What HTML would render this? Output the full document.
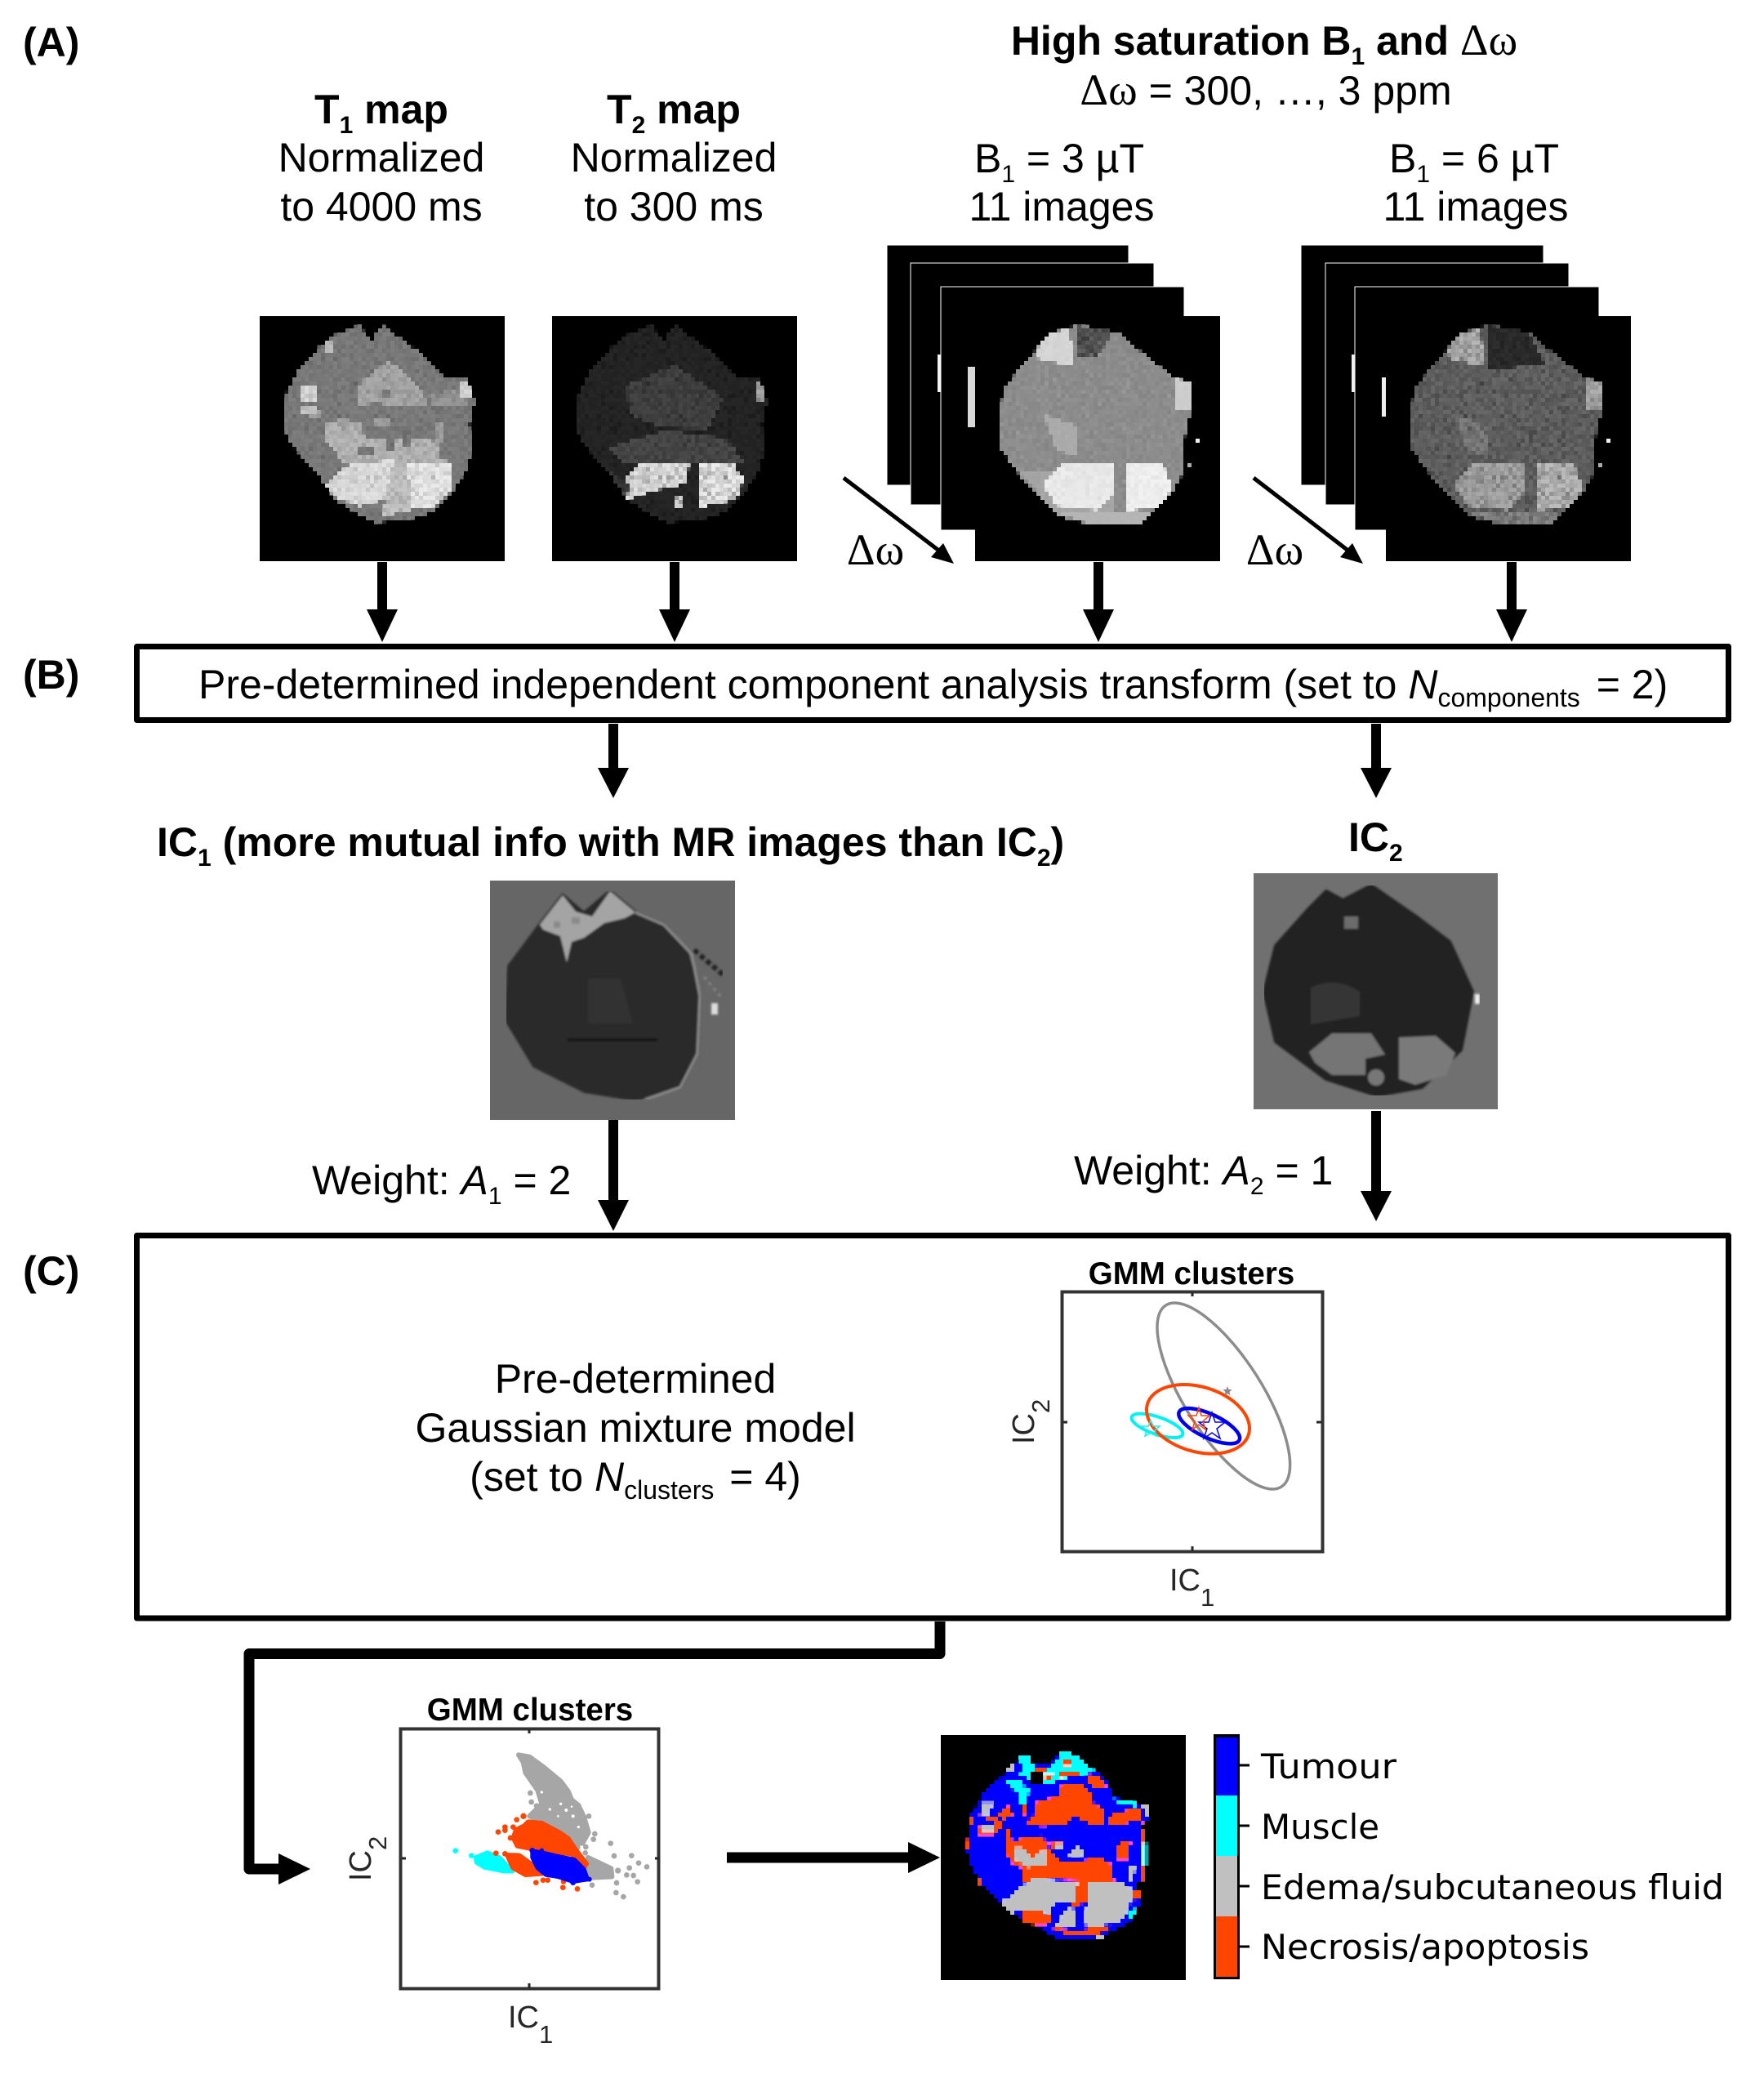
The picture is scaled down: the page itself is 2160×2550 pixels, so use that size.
<!DOCTYPE html>
<html><head><meta charset="utf-8"><title>Diagram</title>
<style>
html,body{margin:0;padding:0;background:#fff}
svg{display:block}
text{font-family:"Liberation Sans",Arial,sans-serif;white-space:pre;fill:#000;font-size:50px}
.b{font-weight:700}
.s{font-family:"Liberation Serif",serif;font-size:54px}
.ax{fill:#262626;font-size:38px}
.dj{font-family:"DejaVu Sans",sans-serif;font-size:42px}
</style></head><body>
<svg xmlns="http://www.w3.org/2000/svg" width="2160" height="2550" viewBox="0 0 2160 2550">
<defs>
<path id="br" d="M122.6,10.7L136,31L150,10.7L164,21L191.5,41L212,62L226,74.5L253,77L264,102.5L257,133L260,164L253,189L236,215L212,240L178,250.5L140,253L95,227.5L67.5,189L40,159L28,133L33,92L47,67L74,36L95,21Z"/>
<path id="br2" d="M124,11L150,14L176,21L213,51.5L243,74.5L265,82L265,113L257,148L257,189L239,220L206,253L146,257L102,245L58,199.5L32,164L28,128L35.5,87L61,57L91,21Z"/>
<clipPath id="c1"><use href="#br"/></clipPath>
<clipPath id="c2"><use href="#br2"/></clipPath>
<filter id="nz" x="0" y="0" width="100%" height="100%"><feTurbulence type="fractalNoise" baseFrequency="0.22" numOctaves="2" seed="4"/><feColorMatrix values="0 0 0 0 .5 0 0 0 0 .5 0 0 0 0 .5 1.6 0 0 0 -.55"/></filter>
<filter id="nd" x="0" y="0" width="100%" height="100%"><feTurbulence type="fractalNoise" baseFrequency="0.25" numOctaves="2" seed="9"/><feColorMatrix values="0 0 0 0 0 0 0 0 0 0 0 0 0 0 0 2 0 0 0 -.7"/></filter>
<filter id="px" x="0" y="0" width="100%" height="100%"><feFlood x="2" y="2" width="1" height="1"/><feComposite width="5" height="5"/><feTile result="a"/><feComposite in="SourceGraphic" in2="a" operator="in"/><feMorphology operator="dilate" radius="2"/></filter>
<filter id="bl" x="0" y="0" width="100%" height="100%"><feGaussianBlur stdDeviation="1.300"/></filter>
</defs>

<!-- panel letters -->
<text class="b" x="28" y="69">(A)</text>
<text class="b" x="28" y="843">(B)</text>
<text class="b" x="28" y="1573">(C)</text>

<!-- headings -->
<text class="b" x="467" y="151" text-anchor="middle">T<tspan dy="12" style="font-size:30px">1</tspan><tspan dy="-12"> map</tspan></text>
<text x="467" y="210" text-anchor="middle">Normalized</text>
<text x="467" y="270" text-anchor="middle">to 4000 ms</text>
<text class="b" x="825" y="151" text-anchor="middle">T<tspan dy="12" style="font-size:30px">2</tspan><tspan dy="-12"> map</tspan></text>
<text x="825" y="210" text-anchor="middle">Normalized</text>
<text x="825" y="270" text-anchor="middle">to 300 ms</text>
<text class="b" x="1548" y="67" text-anchor="middle">High saturation B<tspan dy="12" style="font-size:30px">1</tspan><tspan dy="-12"> and </tspan><tspan class="s" style="font-weight:400">Δω</tspan></text>
<text x="1550" y="128" text-anchor="middle"><tspan class="s">Δω</tspan> = 300, …, 3 ppm</text>
<text x="1297" y="211" text-anchor="middle">B<tspan dy="12" style="font-size:30px">1</tspan><tspan dy="-12"> = 3 µT</tspan></text>
<text x="1300" y="270" text-anchor="middle">11 images</text>
<text x="1805" y="211" text-anchor="middle">B<tspan dy="12" style="font-size:30px">1</tspan><tspan dy="-12"> = 6 µT</tspan></text>
<text x="1807" y="270" text-anchor="middle">11 images</text>

<!-- T1 -->
<g transform="translate(318,387)" filter="url(#px)">
<rect width="300" height="300" fill="#000"/>
<use href="#br" fill="#7f7f7f"/>
<g clip-path="url(#c1)">
<polygon points="119,87 130,75 157,56 171,64 202,97 205,110 122,110" fill="#ababab"/>
<polygon points="205,98 253,85 253,108 215,112" fill="#9a9a9a"/>
<polygon points="81,128 122,128 129,148 219,153 219,174 236,180 225,205 165,195 102,179 95,169 81,153" fill="#b9b9b9"/>
<polygon points="81,205 109,182 164,176 168,220 123,233 88,220" fill="#e2e2e2"/>
<polygon points="181,179 233,182 236,210 212,233 185,235" fill="#ebebeb"/>
<polygon points="164,176 181,179 185,238 150,245" fill="#c6c6c6"/>
<g fill="#7f7f7f"><rect x="150" y="90" width="10" height="10"/><rect x="135" y="105" width="15" height="10"/><rect x="175" y="110" width="20" height="10"/><rect x="120" y="160" width="20" height="10"/><rect x="155" y="150" width="10" height="15"/><rect x="200" y="130" width="15" height="15"/><rect x="225" y="125" width="15" height="20"/><rect x="85" y="170" width="10" height="15"/><rect x="175" y="150" width="10" height="10"/></g>
<g fill="#a5a5a5"><rect x="140" y="125" width="20" height="10"/><rect x="215" y="130" width="12" height="25"/><rect x="60" y="115" width="15" height="8"/><rect x="95" y="125" width="15" height="8"/></g>
<rect x="50" y="85" width="18" height="20" fill="#dcdcdc"/>
<rect x="48" y="112" width="20" height="8" fill="#c9c9c9"/>
<rect x="243" y="80" width="17" height="20" fill="#d8d8d8"/>
<rect x="78" y="32" width="14" height="14" fill="#c8c8c8"/>
<rect width="300" height="300" filter="url(#nd)" opacity=".22"/>
</g></g>

<!-- T2 -->
<g transform="translate(676,387)" filter="url(#px)">
<rect width="300" height="300" fill="#000"/>
<use href="#br" fill="#282828"/>
<g clip-path="url(#c1)">
<polygon points="90,85 150,60 210,100 190,140 130,135 95,120" fill="#444"/>
<polygon points="70,160 140,140 215,150 235,180 165,178 85,178" fill="#4c4c4c"/>
<polygon points="82,205 110,180 168,180 165,205 120,215 90,225" fill="#e4e4e4"/>
<polygon points="178,182 220,178 235,200 225,225 182,234" fill="#ececec"/>
<polygon points="60,185 95,205 90,232 70,210" fill="#3c3c3c"/>
<rect x="148" y="222" width="14" height="14" fill="#d0d0d0"/>
<rect x="248" y="80" width="10" height="26" fill="#aaa"/>
<rect width="300" height="300" filter="url(#nd)" opacity=".4"/>
</g></g>

<!-- stack 1 -->
<g stroke="#fff" stroke-width="1" fill="#000">
<rect x="1086" y="300" width="296" height="294"/>
<rect x="1115" y="322" width="298" height="296"/>
<rect x="1152" y="351" width="298" height="298"/>
</g>
<rect x="1148" y="434" width="4" height="46" fill="#f4f4f4"/>
<rect x="1185" y="449" width="9" height="74" fill="#d8d8d8"/>
<g transform="translate(1194,387)" filter="url(#px)">
<rect width="300" height="300" fill="#000"/>
<use href="#br2" fill="#858585"/>
<g clip-path="url(#c2)">
<polygon points="91,21 115,15 122,60 80,55 72,45" fill="#d8d8d8"/>
<polygon points="124,11 170,18 150,50 125,52" fill="#3d3d3d"/>
<polygon points="85,120 125,135 125,170 100,165" fill="#a8a8a8"/>
<polygon points="55,190 90,190 172,178 172,240 100,245" fill="#a2a2a2"/>
<polygon points="82,205 105,182 172,178 170,215 150,238 100,232" fill="#ededed"/>
<polygon points="183,180 230,182 242,210 225,236 183,238" fill="#f2f2f2"/>
<polygon points="100,240 215,242 206,257 146,257" fill="#b4b4b4"/>
<rect x="243" y="77" width="22" height="36" fill="#cfcfcf"/>
<rect width="300" height="300" filter="url(#nz)" opacity=".45"/>
</g>
<rect x="270" y="148" width="5" height="5" fill="#eee"/><rect x="258" y="180" width="5" height="5" fill="#aaa"/>
</g>
<line x1="1033" y1="585" x2="1155" y2="678" stroke="#000" stroke-width="5"/>
<polygon points="1168,690 1140,682 1155,665" fill="#000"/>
<text class="s" x="1072" y="691" text-anchor="middle">Δω</text>

<!-- stack 2 -->
<g stroke="#fff" stroke-width="1" fill="#000">
<rect x="1593" y="300" width="297" height="294"/>
<rect x="1623" y="322" width="298" height="296"/>
<rect x="1659" y="351" width="299" height="298"/>
</g>
<rect x="1655" y="434" width="4" height="46" fill="#f0f0f0"/>
<rect x="1692" y="462" width="5" height="48" fill="#eee"/>
<g transform="translate(1697,387)" filter="url(#px)">
<rect width="300" height="300" fill="#000"/>
<use href="#br2" fill="#676767"/>
<g clip-path="url(#c2)">
<polygon points="91,21 115,15 122,60 80,55 72,45" fill="#b5b5b5"/>
<polygon points="124,11 175,18 195,60 125,65" fill="#2f2f2f"/>
<polygon points="85,120 125,135 125,170 100,165" fill="#7f7f7f"/>
<polygon points="82,205 105,182 172,178 170,215 150,238 100,232" fill="#a9a9a9"/>
<polygon points="183,180 230,182 242,210 225,236 183,238" fill="#bcbcbc"/>
<polygon points="100,240 215,242 206,257 146,257" fill="#8a8a8a"/>
<rect x="243" y="77" width="22" height="36" fill="#b0b0b0"/>
<rect width="300" height="300" filter="url(#nd)" opacity=".4"/>
</g>
<rect x="270" y="148" width="5" height="5" fill="#eee"/><rect x="258" y="180" width="5" height="5" fill="#aaa"/>
</g>
<line x1="1535" y1="585" x2="1656" y2="678" stroke="#000" stroke-width="5"/>
<polygon points="1669,690 1641,682 1656,665" fill="#000"/>
<text class="s" x="1561" y="691" text-anchor="middle">Δω</text>

<!-- arrows A to B -->
<g fill="#000">
<polygon points="462,688 474,688 474,746 487,746 468,786 449,746 462,746"/>
<polygon points="820,688 832,688 832,746 845,746 826,786 807,746 820,746"/>
<polygon points="1339,688 1351,688 1351,746 1364,746 1345,786 1326,746 1339,746"/>
<polygon points="1845,688 1857,688 1857,746 1870,746 1851,786 1832,746 1845,746"/>
<polygon points="745,886 757,886 757,940 770,940 751,977 732,940 745,940"/>
<polygon points="1679,886 1691,886 1691,940 1704,940 1685,977 1666,940 1679,940"/>
<polygon points="745,1371 757,1371 757,1469 770,1469 751,1507 732,1469 745,1469"/>
<polygon points="1679,1360 1691,1360 1691,1458 1704,1458 1685,1495 1666,1458 1679,1458"/>
</g>

<!-- box B -->
<rect x="167.500" y="791.500" width="1949" height="90" fill="#fff" stroke="#000" stroke-width="7" stroke-linejoin="round"/>
<text x="243" y="855">Pre-determined independent component analysis transform (set to <tspan style="font-style:italic">N</tspan><tspan dy="10" style="font-size:32px">components</tspan><tspan dy="-10" dx="6"> = 2)</tspan></text>

<!-- IC titles -->
<text class="b" x="192" y="1048">IC<tspan dy="12" style="font-size:30px">1</tspan><tspan dy="-12"> (more mutual info with MR images than IC</tspan><tspan dy="12" style="font-size:30px">2</tspan><tspan dy="-12">)</tspan></text>
<text class="b" x="1651" y="1042">IC<tspan dy="12" style="font-size:30px">2</tspan></text>

<!-- IC1 image -->
<g transform="translate(600,1078)">
<rect width="300" height="293" fill="#666"/>
<g filter="url(#bl)">
<path d="M89,18L115,40L147,13L178,39L213,54L240,85L257,141L254,212L233,253L178,268L116,258L54,227L20,171L23,105L61,54Z" fill="#2a2a2a" stroke="#2a2a2a" stroke-width="4" stroke-linejoin="round"/>
<polygon points="89,18 105,38 125,44 147,13 178,39 165,46 140,52 115,70 100,75 94,100 86,68 65,60 61,54" fill="#a4a4a4"/>
<g fill="#8a8a8a"><rect x="100" y="45" width="10" height="8"/><rect x="78" y="50" width="8" height="8"/></g>
<polyline points="178,39 213,54 247,90 257,141 254,212 233,253 190,268" fill="none" stroke="#8c8c8c" stroke-width="3"/>
<polyline points="95,195 205,195" stroke="#181818" stroke-width="4" fill="none"/>
<path d="M120,120l40,0l15,55l-55,0z" fill="#333"/>
<rect x="271" y="150" width="8" height="14" fill="#ddd"/>
<polyline points="250,85 285,115" stroke="#222" stroke-width="6" stroke-dasharray="6 4" fill="none"/>
<polyline points="262,118 285,145" stroke="#888" stroke-width="3" stroke-dasharray="4 5" fill="none"/>
</g>
</g>

<!-- IC2 image -->
<g transform="translate(1535,1069)">
<rect width="299" height="289" fill="#707070"/>
<g filter="url(#bl)">
<path d="M89,22L109.500,33L144,15L199,53L240,84L268,145L254,216L206,262L151,272L89,252L27,206L13,145L27,89L68,43Z" fill="#202020" stroke="#202020" stroke-width="4" stroke-linejoin="round"/>
<polygon points="68,219 96,196 144,196 161,222 137,227 137,247 96,247 75,232" fill="#757575"/>
<polygon points="178,201 223,199 247,220 236,247 198,259 178,252 178,220" fill="#7a7a7a"/>
<circle cx="150" cy="250" r="10" fill="#777"/>
<rect x="111" y="53" width="17" height="15" fill="#6c6c6c"/>
<path d="M70,140q30,-15 60,5l0,30l-60,10z" fill="#363636"/>
<rect x="271" y="148" width="6" height="12" fill="#eee"/>
</g>
</g>

<text x="382" y="1462">Weight: <tspan style="font-style:italic">A</tspan><tspan dy="12" style="font-size:30px">1</tspan><tspan dy="-12"> = 2</tspan></text>
<text x="1315" y="1450">Weight: <tspan style="font-style:italic">A</tspan><tspan dy="12" style="font-size:30px">2</tspan><tspan dy="-12"> = 1</tspan></text>

<!-- box C -->
<rect x="167.500" y="1512.500" width="1949" height="468.500" fill="#fff" stroke="#000" stroke-width="7" stroke-linejoin="round"/>
<text x="778" y="1705" text-anchor="middle">Pre-determined</text>
<text x="778" y="1765" text-anchor="middle">Gaussian mixture model</text>
<text x="778" y="1825" text-anchor="middle">(set to <tspan style="font-style:italic">N</tspan><tspan dy="10" style="font-size:32px">clusters</tspan><tspan dy="-10" dx="5"> = 4)</tspan></text>

<!-- GMM top plot -->
<text class="b" x="1459" y="1572" text-anchor="middle" style="font-size:38.500px">GMM clusters</text>
<rect x="1300.500" y="1581.500" width="319" height="318" fill="#fff" stroke="#333" stroke-width="4"/>
<g stroke="#262626" stroke-width="3"><line x1="1460" y1="1582" x2="1460" y2="1587"/><line x1="1460" y1="1893" x2="1460" y2="1899"/><line x1="1302" y1="1741" x2="1307" y2="1741"/><line x1="1612" y1="1741" x2="1618" y2="1741"/></g>
<g fill="none">
<ellipse cx="1498.300" cy="1709" rx="131.700" ry="47.500" transform="rotate(57.500 1498.300 1709)" stroke="#8c8c8c" stroke-width="3.500"/>
<ellipse cx="1417" cy="1745.300" rx="33" ry="10.600" transform="rotate(19 1417 1745.300)" stroke="#00f2f2" stroke-width="4"/>
<ellipse cx="1467" cy="1737.300" rx="64.700" ry="39.700" transform="rotate(16.700 1467 1737.300)" stroke="#ff4500" stroke-width="4"/>
<ellipse cx="1480.700" cy="1745.700" rx="40.700" ry="14.500" transform="rotate(25 1480.700 1745.700)" stroke="#0000ee" stroke-width="4.500"/>
<polygon points="1484,1729 1488,1741 1500,1741 1490,1749 1494,1761 1484,1754 1474,1761 1478,1749 1468,1741 1480,1741" stroke="#00e" stroke-width="1.500"/>
<polygon points="1468,1723 1471,1733 1481,1733 1473,1740 1476,1750 1468,1744 1460,1750 1463,1740 1455,1733 1465,1733" stroke="#ff4500" stroke-width="1.500"/>
<polygon points="1409,1739 1412,1746 1420,1746 1414,1751 1416,1758 1409,1754 1402,1758 1404,1751 1398,1746 1406,1746" stroke="#19eeee" stroke-width="1.500"/>
</g>
<polygon points="1503,1697 1504.500,1701 1508.500,1701 1505.500,1704 1506.500,1708 1503,1706 1499.500,1708 1500.500,1704 1497.500,1701 1501.500,1701" fill="#888"/>
<text class="ax" x="1432" y="1947">IC<tspan dy="19" style="font-size:31px">1</tspan></text>
<text class="ax" transform="translate(1266,1768) rotate(-90)">IC<tspan dy="19" style="font-size:31px">2</tspan></text>

<!-- connector -->
<path d="M1151,1985V2024.500H305V2288H345" fill="none" stroke="#000" stroke-width="13" stroke-linejoin="round"/>
<polygon points="341,2269 380,2288 341,2307" fill="#000"/>
<polygon points="890,2267.500 1112,2267.500 1112,2255 1151,2274 1112,2293 1112,2280.500 890,2280.500" fill="#000"/>

<!-- GMM bottom plot -->
<text class="b" x="649" y="2106" text-anchor="middle" style="font-size:38.500px">GMM clusters</text>
<rect x="490.500" y="2116.500" width="316" height="318" fill="#fff" stroke="#333" stroke-width="4"/>
<g stroke="#262626" stroke-width="3"><line x1="648" y1="2117" x2="648" y2="2122"/><line x1="648" y1="2428" x2="648" y2="2434"/><line x1="492" y1="2275" x2="497" y2="2275"/><line x1="802" y1="2275" x2="807" y2="2275"/></g>
<g transform="translate(400,2060) scale(.33333)">
<g fill="#a6a6a6" stroke="#a6a6a6" stroke-width="18" stroke-linejoin="round">
<polygon points="705,265 745,272 800,312 860,362 888,400 900,430 925,450 945,492 962,550 940,590 915,590 850,545 790,510 745,490 790,445 775,395 730,330 722,292"/>
<polygon points="960,642 1045,682 1048,712 972,716 960,690"/>
</g>
<g fill="#fff"><circle cx="880" cy="468" r="6"/><circle cx="905" cy="490" r="6"/><circle cx="860" cy="445" r="5"/><circle cx="925" cy="530" r="5"/><circle cx="790" cy="402" r="5"/><circle cx="820" cy="465" r="5"/><circle cx="900" cy="455" r="4"/><circle cx="850" cy="490" r="4"/></g>
<g fill="#a6a6a6"><circle cx="748" cy="405" r="10"/><circle cx="752" cy="438" r="10"/><circle cx="771" cy="452" r="10"/><circle cx="963" cy="490" r="10"/><circle cx="985" cy="555" r="10"/><circle cx="980" cy="575" r="10"/><circle cx="922" cy="605" r="10"/><circle cx="952" cy="603" r="10"/><circle cx="950" cy="625" r="10"/><circle cx="1043" cy="590" r="10"/><circle cx="1056" cy="636" r="10"/><circle cx="1120" cy="635" r="10"/><circle cx="1146" cy="662" r="10"/><circle cx="1176" cy="676" r="10"/><circle cx="1112" cy="680" r="10"/><circle cx="1070" cy="690" r="11"/><circle cx="1102" cy="706" r="10"/><circle cx="1127" cy="708" r="10"/><circle cx="1142" cy="731" r="10"/><circle cx="1065" cy="735" r="10"/><circle cx="1063" cy="771" r="10"/><circle cx="1090" cy="786" r="10"/><circle cx="975" cy="743" r="10"/><circle cx="768" cy="490" r="10"/></g>
<g fill="#0ff" stroke="#0ff" stroke-width="16" stroke-linejoin="round">
<polygon points="548,642 590,624 635,642 682,692 650,692 580,678 550,660"/>
</g>
<circle cx="473" cy="617" r="10" fill="#0ff"/><circle cx="532" cy="635" r="10" fill="#0ff"/>
<g fill="#ff4500" stroke="#ff4500" stroke-width="16" stroke-linejoin="round">
<polygon points="740,510 790,515 860,552 888,572 915,612 955,665 945,680 900,630 760,612 700,600 685,570 695,540 725,525"/>
<polygon points="662,632 708,634 750,664 790,702 730,706 684,680"/>
</g>
<g fill="#ff4500"><circle cx="723" cy="490" r="11"/><circle cx="698" cy="503" r="10"/><circle cx="685" cy="530" r="10"/><circle cx="655" cy="530" r="10"/><circle cx="655" cy="542" r="10"/><circle cx="630" cy="548" r="10"/><circle cx="675" cy="570" r="10"/><circle cx="622" cy="626" r="10"/><circle cx="655" cy="628" r="10"/><circle cx="769" cy="734" r="10"/><circle cx="795" cy="725" r="10"/><circle cx="812" cy="725" r="10"/><circle cx="870" cy="730" r="10"/><circle cx="868" cy="752" r="10"/><circle cx="921" cy="757" r="10"/></g>
<g fill="#00f" stroke="#00f" stroke-width="16" stroke-linejoin="round">
<polygon points="756,618 800,626 850,638 910,650 945,685 958,722 905,730 850,712 805,705 775,680 756,642"/>
</g>
<g fill="#00f"><circle cx="755" cy="616" r="10"/><circle cx="790" cy="616" r="8"/><circle cx="965" cy="722" r="9"/><circle cx="905" cy="734" r="10"/></g>
</g>
<text class="ax" x="622" y="2482">IC<tspan dy="19" style="font-size:31px">1</tspan></text>
<text class="ax" transform="translate(454,2303) rotate(-90)">IC<tspan dy="19" style="font-size:31px">2</tspan></text>

<!-- segmentation -->
<g transform="translate(1152,2124)" filter="url(#px)">
<rect width="300" height="300" fill="#000"/>
<g transform="translate(-22,-24) scale(.33333)">
<polygon fill="#00f" points="360,150 400,175 460,185 505,130 525,130 565,150 610,185 640,210 680,250 700,300 780,320 835,330 835,385 805,400 810,600 790,620 795,700 770,750 700,790 640,820 500,820 410,770 350,740 290,690 210,620 175,540 160,490 175,370 220,290 300,215 345,170"/>
<g fill="#ff4500">
<polygon points="420,310 500,300 500,260 580,250 620,290 630,330 670,340 670,400 620,400 560,370 520,400 440,410 385,400 385,385 410,360"/>
<polygon points="320,460 440,440 455,470 470,500 510,540 600,530 640,515 690,545 705,610 400,600 370,620 360,560 320,540 305,490 310,410 330,460"/>
<polygon points="460,470 520,465 520,490 470,490"/>
<polygon points="705,490 740,455 765,470 750,530 710,530"/>
<polygon points="680,370 740,350 800,340 810,400 770,380 730,410 680,400"/>
<polygon points="610,215 650,220 680,270 640,270 610,250"/>
<polygon points="205,365 270,370 300,405 260,440 205,440 205,410 260,395"/>
<polygon points="270,360 320,330 330,365 300,385"/>
<polygon points="360,330 385,330 385,365 360,365"/>
<rect x="795" y="420" width="15" height="185"/>
<polygon points="360,720 430,720 470,740 460,770 410,770 360,760"/>
<polygon points="470,780 580,790 640,775 700,770 640,810 530,805"/>
<rect x="158" y="455" width="14" height="35"/><rect x="170" y="370" width="15" height="30"/><rect x="203" y="595" width="12" height="25"/>
<polygon points="770,640 790,640 810,672 770,680"/>
<polygon points="570,600 610,600 600,690 550,700 555,650"/>
</g>
<g fill="#c0c0c0">
<polygon points="290,685 400,600 570,610 560,690 510,680 460,715 480,730 420,720 350,720 320,730"/>
<polygon points="605,610 740,615 770,640 760,710 720,760 610,780 590,770 600,700"/>
<polygon points="490,770 520,720 550,690 560,760 590,770 530,780"/>
<polygon points="215,320 260,320 240,365 215,365"/>
<rect x="215" y="400" width="50" height="25"/>
<polygon points="330,485 360,485 400,520 450,490 455,550 380,560 330,520"/>
<polygon points="530,510 570,480 595,510 560,525"/>
<polygon points="750,555 780,555 775,605 750,605"/>
<polygon points="800,320 835,330 835,385 815,360"/>
<polygon points="305,195 340,175 340,210 305,210"/>
<rect x="640" y="808" width="30" height="12"/>
<rect x="485" y="470" width="25" height="22"/>
</g>
<g fill="#0ff">
<polygon points="305,232 345,218 380,228 400,256 445,258 500,238 540,226 590,216 640,210 610,185 565,150 525,130 497,130 497,160 460,190 445,210 445,232 400,210 370,212 345,218"/>
<polygon points="355,145 390,148 408,190 400,215 365,215"/>
<polygon points="358,265 390,265 385,325 358,325"/>
<polygon points="305,232 370,232 375,280 320,272"/>
<polygon points="700,305 780,320 780,335 725,325"/>
<rect x="808" y="470" width="15" height="80"/>
<polygon points="770,710 782,710 775,740 745,752"/>
</g>
<polygon fill="#ff4500" points="410,186 458,186 450,205 410,205"/>
<polygon fill="#ff4500" points="510,170 540,160 540,185 510,185"/>
<polygon fill="#ff4500" points="448,215 480,215 470,240 448,240"/>
<polygon fill="#ff4500" points="500,212 580,205 580,225 500,230"/>
<rect x="400" y="212" width="42" height="43" fill="#000"/>
<rect x="540" y="749" width="12" height="12" fill="#000"/>
<polygon fill="#00f" points="555,775 560,730 590,705 600,775"/>
</g>
</g>

<!-- colorbar -->
<rect x="1486" y="2123" width="32" height="300" fill="#000"/>
<rect x="1489" y="2127" width="26" height="71" fill="#00f"/>
<rect x="1489" y="2198" width="26" height="74" fill="#0ff"/>
<rect x="1489" y="2272" width="26" height="74" fill="#c0c0c0"/>
<rect x="1489" y="2346" width="26" height="74" fill="#ff4500"/>
<g stroke="#000" stroke-width="3"><line x1="1518" y1="2161" x2="1530" y2="2161"/><line x1="1518" y1="2235" x2="1530" y2="2235"/><line x1="1518" y1="2309" x2="1530" y2="2309"/><line x1="1518" y1="2383" x2="1530" y2="2383"/></g>
<text class="dj" x="1544" y="2177" textLength="166" lengthAdjust="spacingAndGlyphs">Tumour</text>
<text class="dj" x="1544" y="2251" textLength="145" lengthAdjust="spacingAndGlyphs">Muscle</text>
<text class="dj" x="1544" y="2325" textLength="567" lengthAdjust="spacingAndGlyphs">Edema/subcutaneous fluid</text>
<text class="dj" x="1544" y="2398" textLength="402" lengthAdjust="spacingAndGlyphs">Necrosis/apoptosis</text>
</svg>
</body></html>
